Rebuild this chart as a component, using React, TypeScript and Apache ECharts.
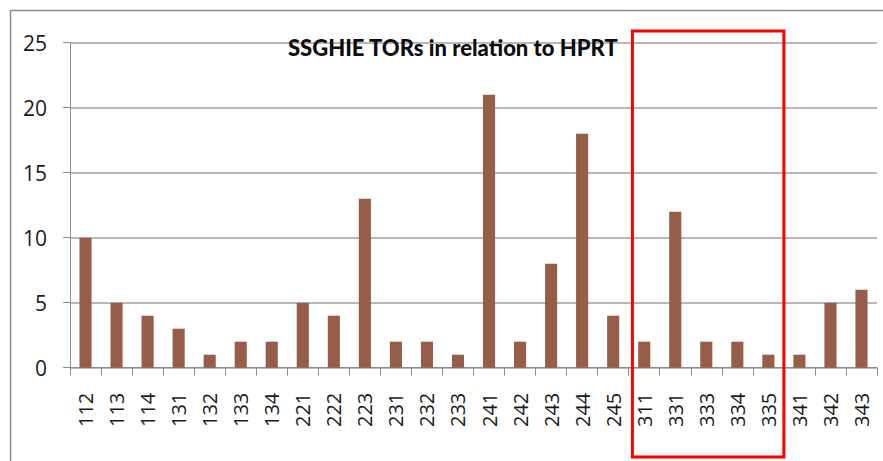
import React, { useEffect, useRef } from "react";
import * as echarts from "echarts";

const categories = ["112","113","114","131","132","133","134","221","222","223","231","232","233","241","242","243","244","245","311","331","333","334","335","341","342","343"];
const values = [10,5,4,3,1,2,2,5,4,13,2,2,1,21,2,8,18,4,2,12,2,2,1,1,5,6];
const yTicks = { min: 0, max: 25, interval: 5 };
const titleText = "SSGHIE TORs in relation to HPRT";
const highlightFrom = "311";
const highlightTo = "335";

export default function App() {
  const ref = useRef<HTMLDivElement>(null);
  useEffect(() => {
    const chart = echarts.init(ref.current!, null, { renderer: "svg" });
    chart.setOption({
      animation: false,
      backgroundColor: "#ffffff",
      title: {
        text: titleText,
        left: 283,
        top: 31,
        textStyle: { fontFamily: "Lato, sans-serif", fontWeight: 900, fontSize: 22, color: "#0d0d0d" },
      },
      grid: { left: 70, right: 6, top: 42.7, bottom: 93.3 },
      xAxis: {
        type: "category",
        data: categories,
        boundaryGap: true,
        axisLine: { lineStyle: { color: "#8c8c8c", width: 1 } },
        axisTick: { show: true, length: 8, alignWithLabel: false, lineStyle: { color: "#8c8c8c" } },
        axisLabel: { rotate: 90, interval: 0, margin: 25, fontFamily: "'Open Sans', sans-serif", fontSize: 20, color: "#1a1a1a" },
      },
      yAxis: {
        type: "value",
        min: yTicks.min,
        max: yTicks.max,
        interval: yTicks.interval,
        axisLine: { show: true, lineStyle: { color: "#8c8c8c" } },
        axisTick: { show: true, length: 7, lineStyle: { color: "#8c8c8c" } },
        splitLine: { lineStyle: { color: "#a0a0a0", width: 1.5 } },
        axisLabel: { margin: 23, fontFamily: "'Open Sans', sans-serif", fontSize: 21, color: "#1a1a1a" },
      },
      series: [
        {
          type: "bar",
          data: values,
          barWidth: "39%",
          itemStyle: { color: "#965d48" },
        },
      ],
    });
    const c1 = chart.convertToPixel({ xAxisIndex: 0 }, highlightFrom) as number;
    const c2 = chart.convertToPixel({ xAxisIndex: 0 }, highlightTo) as number;
    const band = (chart.convertToPixel({ xAxisIndex: 0 }, categories[1]) as number) - (chart.convertToPixel({ xAxisIndex: 0 }, categories[0]) as number);
    const x1 = c1 - band * 0.38;
    const x2 = c2 + band * 0.5;
    chart.setOption({
      graphic: [
        {
          type: "rect",
          shape: { x: 10.5, y: 10.5, width: 1000, height: 1000 },
          style: { fill: "none", stroke: "#8c8c8c", lineWidth: 1.5 },
          z: 0,
        },
        {
          type: "rect",
          shape: { x: x1, y: 31, width: x2 - x1, height: 426 },
          style: { fill: "none", stroke: "#ff0000", lineWidth: 3 },
          z: 100,
        },
      ],
    });
    return () => chart.dispose();
  }, []);
  return <div ref={ref} style={{ width: 883, height: 461, position: "absolute", left: 0, top: 0 }} />;
}
